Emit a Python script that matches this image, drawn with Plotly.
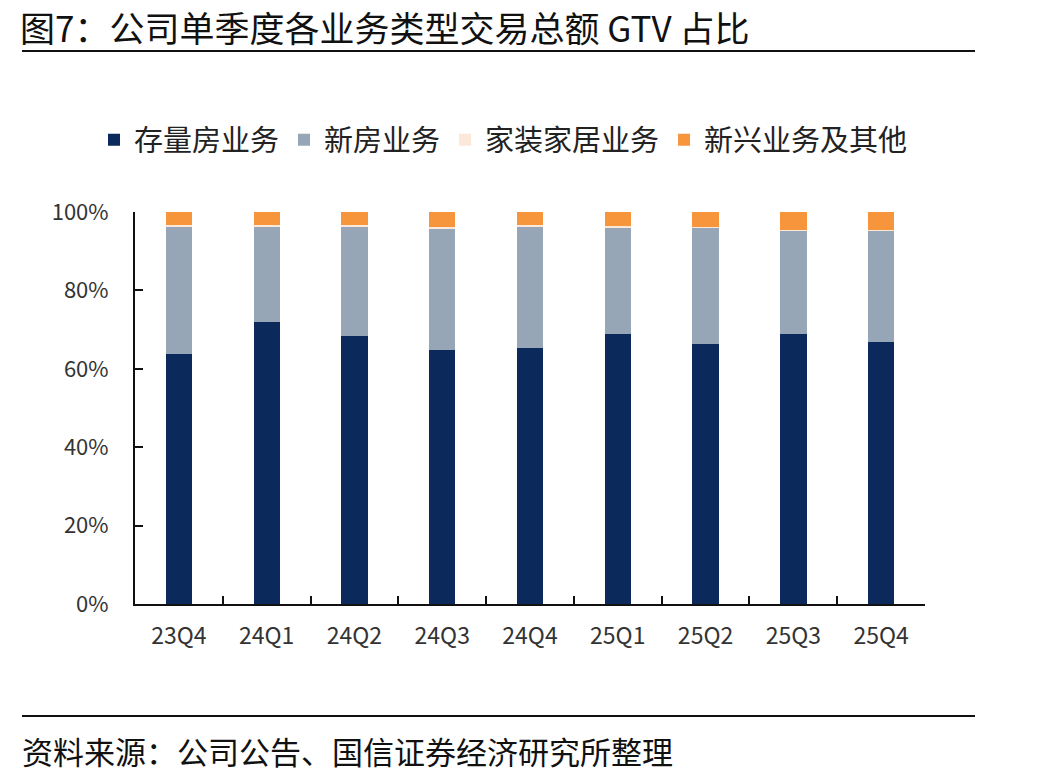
import plotly.graph_objects as go

quarters = ["23Q4", "24Q1", "24Q2", "24Q3", "24Q4", "25Q1", "25Q2", "25Q3", "25Q4"]
existing = [63.8, 71.9, 68.4, 64.8, 65.3, 68.9, 66.3, 68.9, 66.8]
new_home = [32.4, 24.5, 28.0, 30.9, 31.1, 27.2, 29.7, 26.3, 28.4]
home_deco = [0.4, 0.3, 0.3, 0.5, 0.3, 0.4, 0.1, 0.1, 0.1]
emerging = [3.4, 3.3, 3.3, 3.8, 3.3, 3.5, 3.9, 4.7, 4.7]

names = ["存量房业务", "新房业务", "家装家居业务", "新兴业务及其他"]
colors = ["#0b2a5b", "#97a6b7", "#fbe8da", "#f7953c"]
series = [existing, new_home, home_deco, emerging]

FONT = "Noto Sans CJK SC"
L, R, T, B = 135, 925, 212, 604
W, H = 1047, 783


def px(x):
    return (x - L) / (R - L)


def py(y):
    return (B - y) / (B - T)


fig = go.Figure()
for n, c, s in zip(names, colors, series):
    fig.add_trace(go.Bar(x=quarters, y=s, name=n, marker=dict(color=c, line=dict(width=0)), width=0.3))

fig.update_layout(
    barmode="stack",
    width=W, height=H,
    margin=dict(l=L, r=W - R, t=T, b=H - B),
    plot_bgcolor="white", paper_bgcolor="white",
    font=dict(family=FONT, color="#222222"),
    showlegend=True,
    legend=dict(orientation="h", x=px(94), y=py(140), yanchor="middle", xanchor="left",
                font=dict(size=29, color="#222222", family=FONT), itemwidth=30,
                tracegroupgap=0, traceorder="normal"),
    xaxis=dict(showline=True, linecolor="#111111", linewidth=2, ticks="inside", ticklen=8,
               tickcolor="#111111", tickwidth=2, tickson="boundaries",
               tickfont=dict(size=23, color="#333333", family=FONT), showgrid=False,
               ticklabelstandoff=10),
    yaxis=dict(range=[0, 100], showline=True, linecolor="#111111", linewidth=2, ticks="inside",
               ticklen=8, tickcolor="#111111", tickwidth=2, tickvals=[0, 20, 40, 60, 80, 100],
               ticktext=["0%", "20%", "40%", "60%", "80%", "100%"],
               tickfont=dict(size=22, color="#333333", family=FONT), showgrid=False, ticklabelstandoff=20),
    bargap=0.7,
)

fig.add_annotation(text="图7：公司单季度各业务类型交易总额 GTV 占比", xref="paper", yref="paper",
                   x=px(18), y=py(26), xanchor="left", yanchor="middle", showarrow=False,
                   font=dict(size=35, color="#111111", family=FONT))
fig.add_annotation(text="资料来源：公司公告、国信证券经济研究所整理", xref="paper", yref="paper",
                   x=px(20), y=py(750), xanchor="left", yanchor="middle", showarrow=False,
                   font=dict(size=31, color="#111111", family=FONT))
fig.add_shape(type="line", xref="paper", yref="paper", x0=px(22), x1=px(975), y0=py(51), y1=py(51),
              line=dict(color="#111111", width=2))
fig.add_shape(type="line", xref="paper", yref="paper", x0=px(22), x1=px(975), y0=py(716), y1=py(716),
              line=dict(color="#111111", width=2))

fig.write_html("out.html")
